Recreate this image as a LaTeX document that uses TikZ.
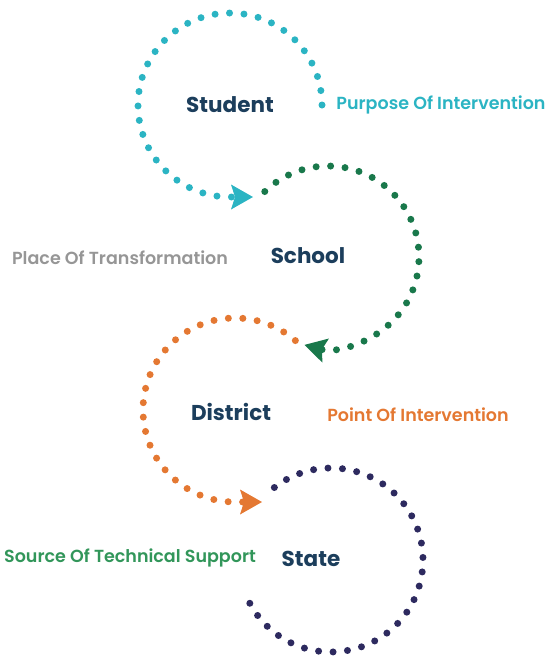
\documentclass[tikz,border=0pt]{standalone}
\usepackage{fontspec}
\setmainfont{Poppins}
\newfontfamily\labelfont{Poppins SemiBold}
\usetikzlibrary{arrows.meta}

\definecolor{trailcyan}{RGB}{43,180,195}
\definecolor{trailgreen}{RGB}{25,120,75}
\definecolor{trailorange}{RGB}{228,120,50}
\definecolor{trailnavy}{RGB}{45,42,95}
\definecolor{titleblue}{RGB}{28,62,92}
\definecolor{placegray}{RGB}{150,150,150}
\definecolor{sourcegreen}{RGB}{50,150,90}

\begin{document}
\begin{tikzpicture}[x=1pt,y=1pt,
  trail/.style={line width=7pt, line cap=round, dash pattern=on 0pt off 14.5pt},
  tip/.style={-{Stealth[length=22pt,width=25pt,inset=4pt,line width=0pt]}},
  level/.style={font=\bfseries\fontsize{21.5}{25}\selectfont, text=titleblue},
  role/.style={font=\labelfont\fontsize{17.5}{21}\selectfont}]
  \useasboundingbox (0,0) rectangle (549,-656);

  \coordinate (loopA) at (230,-105); % student loop
  \coordinate (loopB) at (328,-257); % school loop
  \coordinate (loopC) at (235,-410); % district loop
  \coordinate (loopD) at (331,-560); % state loop

  \node[level] (student)  at (230,-105) {Student};
  \node[level] (school)   at (308,-256) {School};
  \node[level] (district) at (231,-412) {District};
  \node[level] (state)    at (311,-559) {State};

  \node[role, text=trailcyan]   (purpose) at (441,-105) {Purpose Of Intervention};
  \node[role, text=placegray]   (place)   at (120,-258) {Place Of Transformation};
  \node[role, text=trailorange] (point)   at (418,-415) {Point Of Intervention};
  \node[role, text=sourcegreen] (source)  at (130,-558) {Source Of Technical Support};

  \draw[trail, trailcyan, tip] ([shift={(0:92)}]loopA) arc[start angle=0, end angle=270, radius=92] -- ++(23,0);
  \draw[trail, trailgreen, tip] ([shift={(134:91)}]loopB) arc[start angle=134, end angle=-105, radius=91];
  \draw[trail, trailorange, tip] ([shift={(49:92)}]loopC) arc[start angle=49, end angle=270, radius=92] -- ++(27,0);
  \draw[trail, trailnavy] ([shift={(128:92)}]loopD) arc[start angle=128, end angle=-153, radius=92];

\end{tikzpicture}
\end{document}
